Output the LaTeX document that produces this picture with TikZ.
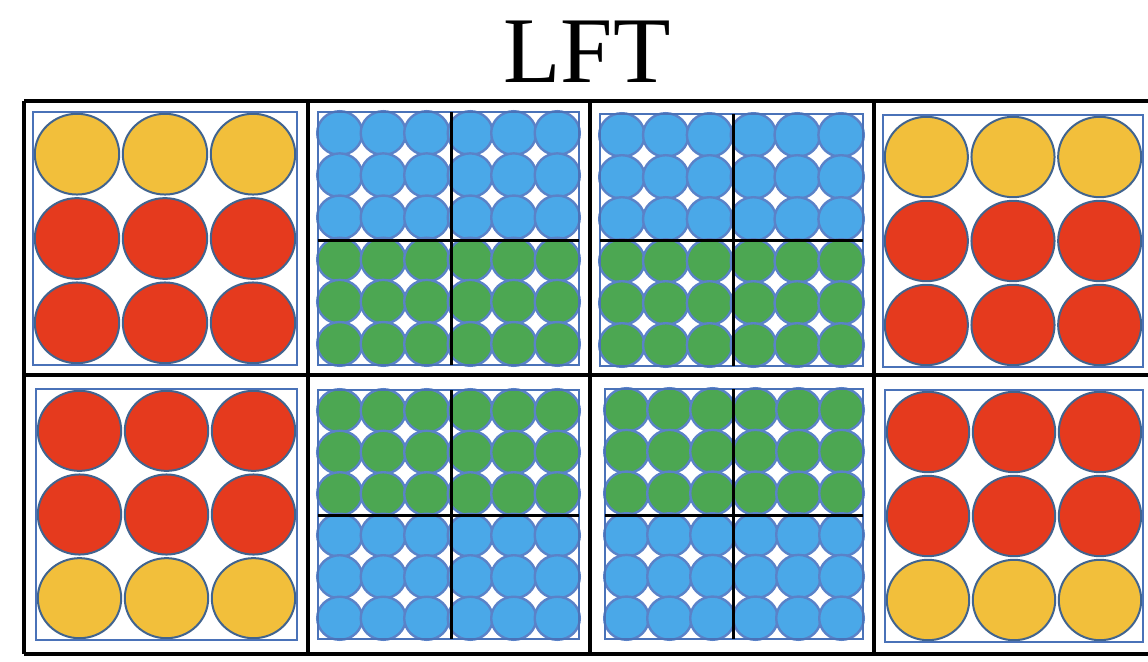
\documentclass[tikz,border=0pt]{standalone}
\usepackage{fontspec}
\setmainfont{Liberation Serif}
\definecolor{cyel}{HTML}{F2BF3B}
\definecolor{cred}{HTML}{E53A1E}
\definecolor{cblue}{HTML}{4AA8E8}
\definecolor{cgreen}{HTML}{4CA752}
\definecolor{smallline}{HTML}{5A82C8}
\definecolor{bigline}{HTML}{41648F}
\definecolor{sqline}{HTML}{4A72B8}
\tikzset{
  bigc/.style={draw=bigline, line width=2pt},
  smallc/.style={draw=smallline, line width=2.4pt},
  sqbox/.style={draw=sqline, line width=2.6pt},
  grid line/.style={draw=black, line width=3.6pt},
  cross line/.style={draw=black, line width=3pt},
}
\newcommand{\BigCell}[5]{%
  \pgfmathsetmacro\cw{(#3-#1)/3}%
  \pgfmathsetmacro\ch{(#4-#2)/3}%
  \pgfmathsetmacro\rx{\cw/2-1.8}%
  \pgfmathsetmacro\ry{\ch/2-1.8}%
  \foreach \cc [count=\r from 0] in {#5} {
    \foreach \i in {0,1,2} {
      \filldraw[bigc, fill=\cc] ({#1+(\i+0.5)*\cw},{#2+(\r+0.5)*\ch}) ellipse [x radius=\rx pt, y radius=\ry pt];
    }
  }
  \draw[sqbox] (#1,#2) rectangle (#3,#4);
}
\newcommand{\SmallCell}[8]{%
  \pgfmathsetmacro\cw{(#3-#1)/6}%
  \pgfmathsetmacro\ch{(#4-#2)/6}%
  \pgfmathsetmacro\rx{\cw/2+0.8}%
  \pgfmathsetmacro\ry{\ch/2+0.8}%
  \foreach \j in {0,1,2} {
    \foreach \i in {0,...,5} {
      \filldraw[smallc, fill=#5] ({#1+(\i+0.5)*\cw},{#2+(\j+0.5)*\ch}) ellipse [x radius=\rx pt, y radius=\ry pt];
    }
  }
  \foreach \j in {3,4,5} {
    \foreach \i in {0,...,5} {
      \filldraw[smallc, fill=#6] ({#1+(\i+0.5)*\cw},{#2+(\j+0.5)*\ch}) ellipse [x radius=\rx pt, y radius=\ry pt];
    }
  }
  \draw[sqbox] (#1,#2) rectangle (#3,#4);
  \draw[cross line] (#7,#2) -- (#7,#4);
  \draw[cross line] (#1,#8) -- (#3,#8);
}
\begin{document}
\begin{tikzpicture}[x=1pt,y=-1pt]
\useasboundingbox (0,0) rectangle (1148,661);
\fill[white] (0,0) rectangle (1148,661);

\node[anchor=base, inner sep=0pt, font=\fontsize{94}{94}\selectfont] (title) at (587,82) {LFT};

% big cells
\BigCell{33}{112}{297}{365}{cyel,cred,cred}
\BigCell{883}{115}{1143}{367}{cyel,cred,cred}
\BigCell{36}{389}{297}{640}{cred,cred,cyel}
\BigCell{885}{390}{1143}{642}{cred,cred,cyel}

% small cells
\SmallCell{318}{112}{579}{365}{cblue}{cgreen}{451}{240}
\SmallCell{600}{114}{863}{366}{cblue}{cgreen}{733}{240}
\SmallCell{318}{390}{579}{639}{cgreen}{cblue}{451}{515}
\SmallCell{605}{389}{863}{639}{cgreen}{cblue}{733}{515}

% table lines
\draw[grid line] (24,101) -- (1148,101);
\draw[grid line] (24,375) -- (1148,375);
\draw[grid line] (24,654) -- (1148,654);
\foreach \xx in {24,308,590,874} {
  \draw[grid line] (\xx,101) -- (\xx,654);
}
\end{tikzpicture}
\end{document}
